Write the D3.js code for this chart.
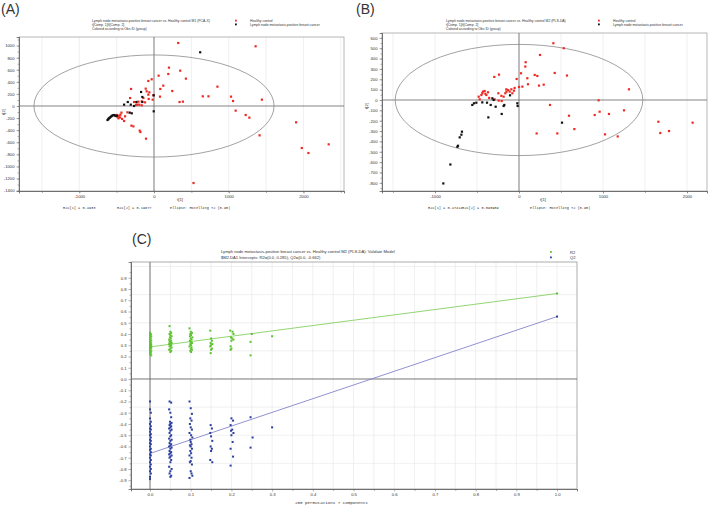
<!DOCTYPE html>
<html><head><meta charset="utf-8">
<script src="https://cdn.jsdelivr.net/npm/d3@7"></script>
<style>
body{margin:0;background:#fff}
svg{display:block}
text{font-family:"Liberation Sans",Arial,sans-serif;fill:#333}
.mono{font-family:"Liberation Mono","DejaVu Sans Mono",monospace}
</style>
</head><body>
<svg id="c" width="709" height="506"></svg>
<script>
// ---------------- DATA ----------------
// Panel A : PCA-X scores [t1, t2]
const healthyA = [
 [324,1043],[1360,988],[200,635],[351,585],[191,530],[62,502],[427,453],[-31,442],[-76,414],
 [124,337],[849,320],[84,282],[244,248],[-307,282],[-111,287],[-98,243],[-62,226],[-76,188],
 [-9,177],[80,155],[653,160],[729,160],[1031,155],[1058,83],[342,66],[387,72],[1444,105],
 [-71,116],[-18,105],[-164,77],[-142,132],[-209,72],[-222,22],[-196,22],[-164,11],[-267,66],
 [1093,-77],[1227,-149],[1276,-193],[1902,-270],[1413,-486],[1978,-696],[2067,-778],[2338,-635],
 [529,-1275],[-107,-541],[-191,-408],[-182,-431],[-302,-326],[-276,-337],[-400,-248],[-427,-215],
 [-467,-160],[-489,-182],[-498,-149],[-436,-110],[-387,-171],[-476,-204],[-449,-144],[-356,-105],
 [-320,132],[-480,-170],[-455,-190],[-240,20],[-120,60]
];
const lnmA = [
 [618,889],[-4,-88],[-4,177],[-173,232],[-156,149],[-156,66],[-236,66],[-351,66],[-400,22],
 [-311,22],[-267,0],[-325,-110],[-298,-121],[-529,-149],[-560,-160],[-582,-182],[-604,-204],
 [-622,-232],[-516,-166],[-545,-152],[-592,-195],[-612,-218],[-570,-170],[-498,-160]
];
// Panel B : PLS-DA scores [t1, t2]
const healthyB = [
 [409,548],[532,500],[250,435],[79,365],[75,323],[24,258],[187,242],[218,232],[425,261],[571,236],
 [-28,203],[99,210],[107,152],[238,139],[294,148],[-238,245],[-294,223],[40,129],[0,126],[-52,116],
 [-91,103],[-151,103],[-111,81],[-79,65],[-163,65],[-246,65],[-369,74],[-409,87],[-429,81],[-437,65],
 [-448,48],[-389,48],[-480,32],[-468,6],[-290,6],[-242,-6],[-206,-10],[-183,32],[-130,95],[-60,90],
 [-400,60],[-355,20],[-210,40],[-150,80],
 [1309,103],[948,-3],[960,-113],[901,-145],[1071,-135],[1250,-100],[369,-48],[595,-152],[659,-281],
 [456,-323],[210,-323],[1024,-332],[1175,-352],[1659,-210],[1682,-319],[1786,-300],[2067,-219]
];
const lnmB = [
 [512,-219],[-20,-32],[-16,-58],[-107,45],[-183,-58],[-175,-48],[-206,-135],[-278,-65],[-337,-48],
 [-381,-26],[-437,-23],[-508,-26],[-536,-32],[-556,-48],[-317,16],[-302,0],[-365,-168],[-679,-306],
 [-686,-335],[-706,-361],[-726,-442],[-734,-452],[-817,-623],[-901,-806]
];
// Panel C : permutation test [correlation, value]
const r2Perm = [
 [0,0.41],[0.002,0.40],[0,0.39],[0.003,0.38],[0,0.37],[0.002,0.36],[0,0.35],[0.003,0.34],[0,0.33],
 [0.002,0.32],[0,0.31],[0.003,0.305],[0,0.30],[0.002,0.295],[0,0.29],[0.003,0.28],[0,0.275],
 [0.002,0.27],[0,0.26],[0.003,0.25],[0,0.24],[0.002,0.23],[0,0.22],[0.003,0.21],
 [0.048,0.47],[0.05,0.42],[0.052,0.41],[0.048,0.40],[0.05,0.39],[0.053,0.38],[0.049,0.37],[0.051,0.36],
 [0.047,0.35],[0.052,0.34],[0.05,0.335],[0.048,0.33],[0.053,0.32],[0.05,0.315],[0.047,0.31],[0.052,0.30],
 [0.05,0.295],[0.048,0.29],[0.053,0.28],[0.05,0.27],[0.047,0.26],[0.052,0.25],[0.05,0.24],
 [0.097,0.45],[0.1,0.42],[0.103,0.41],[0.099,0.40],[0.101,0.39],[0.098,0.38],[0.104,0.37],[0.1,0.36],
 [0.102,0.35],[0.098,0.34],[0.1,0.33],[0.103,0.32],[0.099,0.31],[0.101,0.30],[0.097,0.29],[0.102,0.28],
 [0.1,0.27],[0.103,0.26],[0.099,0.25],[0.101,0.24],
 [0.148,0.43],[0.15,0.36],[0.152,0.34],[0.149,0.32],[0.153,0.31],[0.15,0.30],[0.148,0.29],[0.152,0.27],
 [0.15,0.26],[0.149,0.23],
 [0.197,0.43],[0.203,0.42],[0.205,0.40],[0.199,0.37],[0.202,0.36],[0.205,0.35],[0.2,0.34],[0.198,0.29],
 [0.2,0.27],[0.198,0.26],
 [0.25,0.40],[0.247,0.33],[0.247,0.21],[0.3,0.38],
 [1.0,0.76]
];
const q2Perm = [
 [0,-0.20],[0,-0.27],[0.002,-0.30],[0,-0.35],[0.002,-0.38],[0,-0.40],[0.002,-0.42],[0,-0.44],[0.002,-0.45],
 [0,-0.47],[0.002,-0.49],[0,-0.50],[0.002,-0.52],[0,-0.54],[0.002,-0.55],[0,-0.57],[0.002,-0.58],[0,-0.60],
 [0.002,-0.62],[0,-0.63],[0.002,-0.65],[0,-0.67],[0.002,-0.68],[0,-0.70],[0.002,-0.72],[0,-0.74],
 [0.002,-0.76],[0,-0.78],[0.002,-0.80],[0,-0.82],[0.002,-0.84],[0,-0.87],[0,-0.89],
 [0.048,-0.20],[0.052,-0.21],[0.047,-0.27],[0.05,-0.30],[0.052,-0.34],[0.049,-0.38],[0.053,-0.39],
 [0.05,-0.40],[0.048,-0.41],[0.052,-0.42],[0.05,-0.43],[0.047,-0.44],[0.053,-0.45],[0.05,-0.46],
 [0.048,-0.48],[0.052,-0.50],[0.05,-0.51],[0.047,-0.53],[0.053,-0.54],[0.05,-0.55],[0.048,-0.57],
 [0.052,-0.58],[0.05,-0.59],[0.047,-0.60],[0.053,-0.61],[0.05,-0.62],[0.048,-0.64],[0.052,-0.65],
 [0.05,-0.66],[0.047,-0.67],[0.053,-0.68],[0.05,-0.69],[0.048,-0.70],[0.052,-0.72],[0.05,-0.74],
 [0.047,-0.78],[0.053,-0.80],[0.05,-0.82],[0.048,-0.84],[0.052,-0.86],[0.05,-0.87],
 [0.097,-0.20],[0.1,-0.26],[0.103,-0.31],[0.099,-0.35],[0.102,-0.37],[0.098,-0.40],[0.1,-0.43],
 [0.103,-0.45],[0.097,-0.48],[0.101,-0.50],[0.104,-0.52],[0.099,-0.54],[0.1,-0.56],[0.102,-0.58],
 [0.098,-0.59],[0.1,-0.60],[0.103,-0.62],[0.099,-0.64],[0.101,-0.66],[0.097,-0.68],[0.102,-0.70],
 [0.1,-0.73],[0.098,-0.74],[0.103,-0.76],[0.1,-0.82],[0.102,-0.84],[0.104,-0.86],[0.097,-0.88],
 [0.149,-0.41],[0.152,-0.44],[0.148,-0.48],[0.15,-0.51],[0.153,-0.55],[0.149,-0.60],[0.152,-0.62],
 [0.15,-0.64],[0.148,-0.72],[0.153,-0.74],
 [0.2,-0.35],[0.204,-0.37],[0.198,-0.41],[0.202,-0.45],[0.199,-0.46],[0.205,-0.48],[0.2,-0.50],
 [0.203,-0.56],[0.198,-0.62],[0.204,-0.69],[0.198,-0.77],
 [0.247,-0.34],[0.252,-0.52],[0.247,-0.61],[0.3,-0.43],
 [1.0,0.555]
];
const r2Line = [[0,0.285],[1.0,0.76]];
const q2Line = [[0,-0.662],[1.0,0.555]];

const xTicksAB = [-1000,0,1000,2000];
const yTicksA = [1000,800,600,400,200,0,-200,-400,-600,-800,-1000,-1200,-1400];
const yTicksB = [600,500,400,300,200,100,0,-100,-200,-300,-400,-500,-600,-700,-800];
const xTicksC = [0,0.1,0.2,0.3,0.4,0.5,0.6,0.7,0.8,0.9,1.0];
const yTicksC = [0.9,0.8,0.7,0.6,0.5,0.4,0.3,0.2,0.1,0,-0.1,-0.2,-0.3,-0.4,-0.5,-0.6,-0.7,-0.8,-0.9];
const legendAB = ["Healthy control","Lymph node metastasis-positive breast cancer"];

// ---------------- DRAW ----------------
const svg = d3.select('#c');
const RED = '#ee2a24', BLACK = '#111';

function styleAxis(sel, fs){
  sel.select('.domain').attr('stroke','#666').attr('stroke-width',0.7);
  sel.selectAll('.tick line').attr('stroke','#666').attr('stroke-width',0.5);
  sel.selectAll('.tick text').attr('font-size',fs).attr('fill','#444');
}

function scorePanel(o){
  const g = svg.append('g');
  const x = d3.scaleLinear().domain(o.xd).range([o.l, o.r]);
  const y = d3.scaleLinear().domain(o.yd).range([o.b, o.t]);
  const clipId = 'clip'+o.id;
  g.append('clipPath').attr('id',clipId).append('rect')
    .attr('x',o.l).attr('y',o.t).attr('width',o.r-o.l).attr('height',o.b-o.t);
  // vertical grid
  const xg = d3.range(Math.ceil(o.xd[0]/500)*500, o.xd[1], 500);
  g.selectAll('.vg').data(xg).join('line')
    .attr('x1',d=>x(d)).attr('x2',d=>x(d)).attr('y1',o.t).attr('y2',o.b)
    .attr('stroke','#e6e6e6').attr('stroke-width',0.6);
  // frame
  g.append('rect').attr('x',o.l).attr('y',o.t).attr('width',o.r-o.l).attr('height',o.b-o.t)
    .attr('fill','none').attr('stroke','#999').attr('stroke-width',0.7);
  // zero lines
  g.append('line').attr('x1',x(0)).attr('x2',x(0)).attr('y1',o.t).attr('y2',o.b)
    .attr('stroke','#666').attr('stroke-width',0.8);
  g.append('line').attr('x1',o.l).attr('x2',o.r).attr('y1',y(0)).attr('y2',y(0))
    .attr('stroke','#666').attr('stroke-width',0.8);
  // ellipse
  g.append('ellipse').attr('cx',x(0)).attr('cy',y(0))
    .attr('rx',x(o.ell[0])-x(0)).attr('ry',y(0)-y(o.ell[1]))
    .attr('fill','none').attr('stroke','#8a8a8a').attr('stroke-width',0.8);
  // axes
  const minorX = d3.range(Math.ceil(o.xd[0]/500)*500, o.xd[1], 500);
  const axB = g.append('g').attr('transform',`translate(0,${o.b})`)
    .call(d3.axisBottom(x).tickValues(minorX).tickSize(2).tickFormat(''));
  styleAxis(axB, 4);
  const axB2 = g.append('g').attr('transform',`translate(0,${o.b})`)
    .call(d3.axisBottom(x).tickValues(o.xTicks).tickSize(2.5).tickPadding(2).tickFormat(d=>String(d)));
  styleAxis(axB2, 4.2);
  const step = o.yTicks[0]-o.yTicks[1];
  const minorY = d3.range(Math.ceil(o.yd[0]/(step/2))*(step/2), o.yd[1], step/2);
  const axL = g.append('g').attr('transform',`translate(${o.l},0)`)
    .call(d3.axisLeft(y).tickValues(minorY).tickSize(1.5).tickFormat(''));
  styleAxis(axL, 4);
  const axL2 = g.append('g').attr('transform',`translate(${o.l},0)`)
    .call(d3.axisLeft(y).tickValues(o.yTicks).tickSize(2.5).tickPadding(2).tickFormat(d=>String(d)));
  styleAxis(axL2, 4.2);
  // points
  const pg = g.append('g').attr('clip-path',`url(#${clipId})`);
  pg.selectAll('.h').data(o.healthy).join('rect')
    .attr('x',d=>x(d[0])-1.1).attr('y',d=>y(d[1])-1.1).attr('width',2.2).attr('height',2.2)
    .attr('fill',RED);
  pg.selectAll('.m').data(o.lnm).join('rect')
    .attr('x',d=>x(d[0])-1.1).attr('y',d=>y(d[1])-1.1).attr('width',2.2).attr('height',2.2)
    .attr('fill',BLACK);
  // axis titles
  g.append('text').attr('x',(o.l+o.r)/2+ (x(0)-(o.l+o.r)/2)*0 + 8).attr('y',o.b+9.5)
    .attr('font-size',4.2).attr('text-anchor','middle').text('t[1]')
    .attr('x', x(0)+ (o.tx||26));
  g.append('text').attr('transform',`translate(${o.l-14},${y(0)+6}) rotate(-90)`)
    .attr('font-size',4.2).attr('text-anchor','middle').text('t[2]');
  // header
  const hl = [o.title,'t[Comp. 1]/t[Comp. 2]','Colored according to Obs ID (group)'];
  g.selectAll('.hd').data(hl).join('text')
    .attr('x',o.hx).attr('y',(d,i)=>o.hy+i*3.8).attr('font-size',3.4).text(d=>d);
  // legend
  const lc = [RED, BLACK];
  g.selectAll('.ld').data(legendAB).join('rect')
    .attr('x',o.lx-1).attr('y',(d,i)=>o.hy-2.3+i*3.8).attr('width',1.8).attr('height',1.8)
    .attr('fill',(d,i)=>lc[i]);
  g.selectAll('.lt').data(legendAB).join('text')
    .attr('x',o.lx+14).attr('y',(d,i)=>o.hy+i*3.8).attr('font-size',3.4).text(d=>d);
  // footer
  g.selectAll('.ft').data(o.footer).join('text').attr('class','mono')
    .attr('x',d=>d[0]).attr('y',o.b+18).attr('font-size',3.6).text(d=>d[1]);
  // panel label
  svg.append('text').attr('x',o.px).attr('y',o.py).attr('font-size',14).attr('fill','#222').text(o.label);
}

scorePanel({id:'A', l:19, r:344, t:37, b:191, xd:[-1807,2543], yd:[-1407,1142],
  xTicks:xTicksAB, yTicks:yTicksA, ell:[1607,845], healthy:healthyA, lnm:lnmA,
  title:'Lymph node metastasis-positive breast cancer vs. Healthy control M1 (PCA-X)',
  hx:92, hy:22, lx:236, tx:26,
  footer:[[63,'R2X[1] = 0.4933'],[117,'R2X[2] = 0.19677'],[170,'Ellipse: Hotelling T2 (0.95)']],
  label:'(A)', px:1, py:14});

scorePanel({id:'B', l:382, r:707, t:33, b:191, xd:[-1631,2238], yd:[-879,647],
  xTicks:xTicksAB, yTicks:yTicksB, ell:[1474,537], healthy:healthyB, lnm:lnmB,
  title:'Lymph node metastasis-positive breast cancer vs. Healthy control M2 (PLS-DA)',
  hx:446, hy:22, lx:599, tx:24,
  footer:[[428,'R2X[1] = 0.47414'],[462,'R2X[2] = 0.093909'],[530,'Ellipse: Hotelling T2 (0.95)']],
  label:'(B)', px:356, py:14});

// ---------------- Panel C ----------------
(function(){
  const l=131, r=577, t=262, b=489;
  const g = svg.append('g');
  const x = d3.scaleLinear().domain([-0.0467,1.049]).range([l,r]);
  const y = d3.scaleLinear().domain([-0.978,1.04]).range([b,t]);
  const xg = d3.range(0,1.05,0.05);
  g.selectAll('.vg').data(xg).join('line')
    .attr('x1',d=>x(d)).attr('x2',d=>x(d)).attr('y1',t).attr('y2',b)
    .attr('stroke','#e6e6e6').attr('stroke-width',0.6);
  const yg = [-0.75,-0.5,-0.25,0.25,0.5,0.75,1.0];
  g.selectAll('.hg').data(yg).join('line')
    .attr('x1',l).attr('x2',r).attr('y1',d=>y(d)).attr('y2',d=>y(d))
    .attr('stroke','#e6e6e6').attr('stroke-width',0.6);
  g.append('rect').attr('x',l).attr('y',t).attr('width',r-l).attr('height',b-t)
    .attr('fill','none').attr('stroke','#999').attr('stroke-width',0.8);
  g.append('line').attr('x1',x(0)).attr('x2',x(0)).attr('y1',t).attr('y2',b)
    .attr('stroke','#666').attr('stroke-width',0.9);
  g.append('line').attr('x1',l).attr('x2',r).attr('y1',y(0)).attr('y2',y(0))
    .attr('stroke','#666').attr('stroke-width',0.9);
  const axB = g.append('g').attr('transform',`translate(0,${b})`)
    .call(d3.axisBottom(x).tickValues(d3.range(0.05,1.05,0.1)).tickSize(2).tickFormat(''));
  styleAxis(axB,4);
  const axB2 = g.append('g').attr('transform',`translate(0,${b})`)
    .call(d3.axisBottom(x).tickValues(xTicksC).tickSize(2.5).tickPadding(2).tickFormat(d=>d.toFixed(1)));
  styleAxis(axB2,4.2);
  const axL = g.append('g').attr('transform',`translate(${l},0)`)
    .call(d3.axisLeft(y).tickValues(d3.range(-0.95,1.0,0.1)).tickSize(1.5).tickFormat(''));
  styleAxis(axL,4);
  const axL2 = g.append('g').attr('transform',`translate(${l},0)`)
    .call(d3.axisLeft(y).tickValues(yTicksC).tickSize(2.5).tickPadding(2).tickFormat(d=>d.toFixed(1)));
  styleAxis(axL2,4.2);
  const line = d3.line().x(d=>x(d[0])).y(d=>y(d[1]));
  g.append('path').datum(r2Line).attr('d',line).attr('stroke','#86d063').attr('stroke-width',0.9).attr('fill','none');
  g.append('path').datum(q2Line).attr('d',line).attr('stroke','#8484cc').attr('stroke-width',0.9).attr('fill','none');
  g.selectAll('.r2').data(r2Perm).join('rect')
    .attr('x',d=>x(d[0])-1).attr('y',d=>y(d[1])-1).attr('width',2).attr('height',2).attr('fill','#5cc22e');
  g.selectAll('.q2').data(q2Perm).join('rect')
    .attr('x',d=>x(d[0])-1).attr('y',d=>y(d[1])-1).attr('width',2).attr('height',2).attr('fill','#2c3fa0');
  // titles
  g.append('text').attr('x',221).attr('y',253).attr('font-size',4.1)
    .text('Lymph node metastasis-positive breast cancer vs. Healthy control M2 (PLS-DA): Validate Model');
  g.append('text').attr('x',221).attr('y',258.5).attr('font-size',4.1)
    .text('$M2.DA1 Intercepts: R2=(0.0, 0.285), Q2=(0.0, -0.662)');
  // legend
  const leg = [['R2','#5cc22e'],['Q2','#2c3fa0']];
  g.selectAll('.lgd').data(leg).join('rect')
    .attr('x',550).attr('y',(d,i)=>251+i*5.5).attr('width',1.8).attr('height',1.8).attr('fill',d=>d[1]);
  g.selectAll('.lgt').data(leg).join('text')
    .attr('x',570).attr('y',(d,i)=>253.5+i*5.5).attr('font-size',4.1).text(d=>d[0]);
  g.append('text').attr('class','mono').attr('x',295).attr('y',504).attr('font-size',4.2)
    .text('200 permutations 7 components');
  svg.append('text').attr('x',132).attr('y',244).attr('font-size',14).attr('fill','#222').text('(C)');
})();
</script>
</body></html>
